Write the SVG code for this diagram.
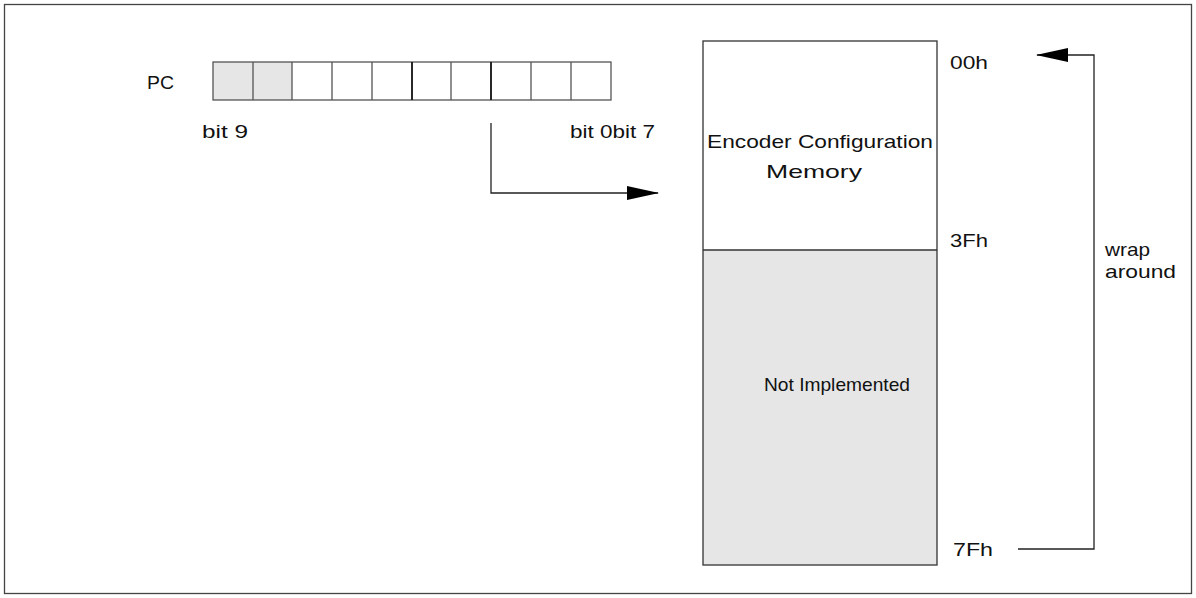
<svg xmlns="http://www.w3.org/2000/svg" width="1196" height="598" viewBox="0 0 1196 598">
<style>
text{font-family:"Liberation Sans",Arial,sans-serif;font-size:19px;fill:#111}
.c{stroke:#555;stroke-width:1.3}
.ln{stroke:#222;stroke-width:1.3;fill:none}
</style>
<defs><marker id="ah" markerWidth="32" markerHeight="14" refX="31" refY="7" orient="auto" markerUnits="userSpaceOnUse"><path d="M0,0L32,7L0,14z" fill="#000"/></marker></defs>
<rect x="4.5" y="4.5" width="1187" height="589" fill="#fff" stroke="#444" stroke-width="1.3"/>
<g id="pc">
<text x="147" y="89" textLength="27" lengthAdjust="spacingAndGlyphs">PC</text>
<rect x="213" y="62" width="79" height="38" fill="#e6e6e6"/>
<rect class="c" x="213" y="62" width="398" height="38" fill="none"/>
<path class="c" d="M253,62V100M292,62V100M332,62V100M372,62V100M451,62V100M531,62V100M571,62V100"/>
<path d="M412,62V100M491,62V100" stroke="#111" stroke-width="1.8"/>
<text x="202" y="138" textLength="46" lengthAdjust="spacingAndGlyphs">bit 9</text>
<text x="570" y="138" textLength="85" lengthAdjust="spacingAndGlyphs">bit 0bit 7</text>
</g>
<g id="memory">
<rect x="703" y="250" width="234" height="315" fill="#e6e6e6"/>
<rect x="703" y="41" width="234" height="524" fill="none" stroke="#333" stroke-width="1.3"/>
<line x1="703" y1="250" x2="937" y2="250" stroke="#333" stroke-width="1.3"/>
<text x="707" y="148" textLength="226" lengthAdjust="spacingAndGlyphs">Encoder Configuration</text>
<text x="766" y="178" textLength="96" lengthAdjust="spacingAndGlyphs">Memory</text>
<text x="764" y="391" textLength="146" lengthAdjust="spacingAndGlyphs">Not Implemented</text>
<text x="950" y="69" textLength="38" lengthAdjust="spacingAndGlyphs">00h</text>
<text x="950" y="247" textLength="38" lengthAdjust="spacingAndGlyphs">3Fh</text>
<text x="953" y="556" textLength="40" lengthAdjust="spacingAndGlyphs">7Fh</text>
<text x="1105" y="256" textLength="45" lengthAdjust="spacingAndGlyphs">wrap</text>
<text x="1105" y="278" textLength="71" lengthAdjust="spacingAndGlyphs">around</text>
</g>
<g id="connectors">
<path class="ln" d="M491,123V193H658" marker-end="url(#ah)"/>
<path class="ln" d="M1018,549H1094V55H1037" marker-end="url(#ah)"/>
</g>
</svg>
